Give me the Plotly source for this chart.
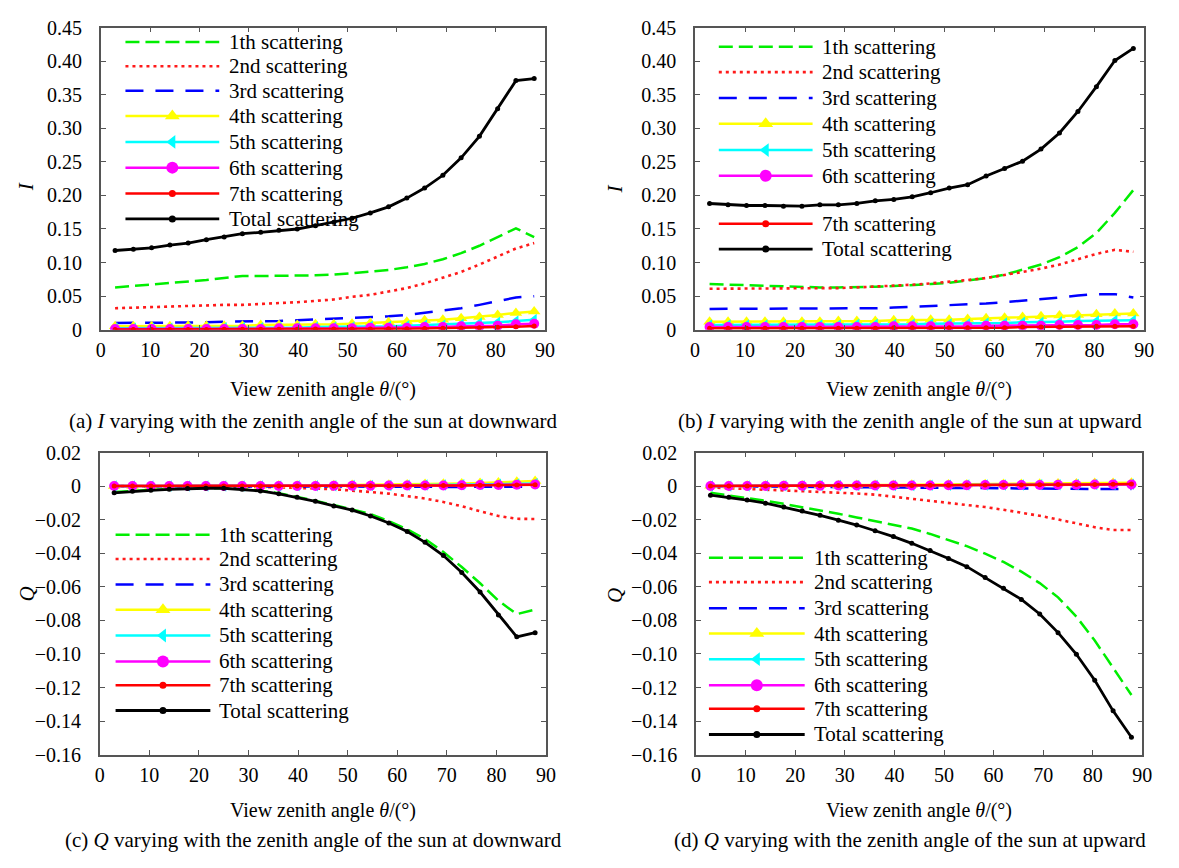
import plotly.graph_objects as go

W, H = 1179, 868

# ---------------- data ----------------
ANGLES = [2.9, 6.6, 10.3, 14.0, 17.7, 21.4, 25.0, 28.7, 32.4, 36.1, 39.8, 43.5,
          47.2, 50.9, 54.6, 58.3, 62.0, 65.6, 69.3, 73.0, 76.7, 80.4, 84.1, 87.8]

NAMES = ["1th scattering", "2nd scattering", "3rd scattering", "4th scattering",
         "5th scattering", "6th scattering", "7th scattering", "Total scattering"]

# (a) I, sun downward
I_down_1 = [0.063, 0.065, 0.067, 0.069, 0.071, 0.074, 0.077, 0.080, 0.080, 0.080, 0.080, 0.081,
            0.082, 0.084, 0.086, 0.089, 0.093, 0.098, 0.105, 0.114, 0.125, 0.138, 0.151, 0.138]
I_down_2 = [0.032, 0.033, 0.034, 0.034, 0.035, 0.036, 0.037, 0.037, 0.038, 0.040, 0.041, 0.043,
            0.045, 0.049, 0.052, 0.057, 0.062, 0.069, 0.077, 0.086, 0.097, 0.109, 0.121, 0.129]
I_down_3 = [0.010, 0.010, 0.011, 0.011, 0.011, 0.011, 0.012, 0.012, 0.012, 0.013, 0.014, 0.015,
            0.016, 0.017, 0.019, 0.020, 0.022, 0.025, 0.028, 0.032, 0.037, 0.043, 0.048, 0.050]
I_down_4 = [0.005, 0.005, 0.005, 0.005, 0.006, 0.006, 0.006, 0.006, 0.007, 0.007, 0.007, 0.008,
            0.008, 0.009, 0.010, 0.011, 0.012, 0.014, 0.015, 0.017, 0.019, 0.022, 0.025, 0.027]
I_down_5 = [0.002, 0.002, 0.002, 0.002, 0.002, 0.002, 0.003, 0.003, 0.003, 0.003, 0.003, 0.004,
            0.004, 0.004, 0.005, 0.005, 0.006, 0.007, 0.007, 0.008, 0.010, 0.011, 0.013, 0.015]
I_down_6 = [0.001, 0.001, 0.001, 0.001, 0.001, 0.001, 0.001, 0.001, 0.001, 0.002, 0.002, 0.002,
            0.002, 0.002, 0.003, 0.003, 0.003, 0.004, 0.004, 0.005, 0.005, 0.006, 0.008, 0.009]
I_down_7 = [0.0005, 0.0005, 0.0005, 0.0005, 0.0005, 0.0005, 0.0006, 0.0006, 0.0007, 0.0007, 0.0008, 0.0009,
            0.0010, 0.0010, 0.0012, 0.0014, 0.0016, 0.0019, 0.0022, 0.0026, 0.0030, 0.0036, 0.0045, 0.0055]
I_down_T = [0.118, 0.120, 0.122, 0.126, 0.129, 0.134, 0.138, 0.143, 0.145, 0.148, 0.150, 0.155,
            0.160, 0.166, 0.174, 0.183, 0.196, 0.211, 0.230, 0.256, 0.288, 0.329, 0.371, 0.374]

# (b) I, sun upward
I_up_1 = [0.068, 0.067, 0.066, 0.065, 0.064, 0.064, 0.063, 0.063, 0.063, 0.064, 0.065, 0.066,
          0.068, 0.070, 0.073, 0.077, 0.082, 0.089, 0.097, 0.108, 0.123, 0.144, 0.174, 0.208]
I_up_2 = [0.061, 0.061, 0.061, 0.061, 0.061, 0.061, 0.062, 0.062, 0.063, 0.064, 0.065, 0.067,
          0.069, 0.071, 0.074, 0.077, 0.081, 0.086, 0.091, 0.097, 0.105, 0.113, 0.119, 0.116]
I_up_3 = [0.031, 0.031, 0.031, 0.031, 0.031, 0.031, 0.031, 0.032, 0.032, 0.032, 0.033, 0.034,
          0.035, 0.036, 0.037, 0.039, 0.041, 0.043, 0.045, 0.048, 0.051, 0.053, 0.053, 0.048]
I_up_4 = [0.012, 0.012, 0.012, 0.012, 0.012, 0.012, 0.012, 0.013, 0.013, 0.013, 0.014, 0.014,
          0.015, 0.015, 0.016, 0.017, 0.018, 0.019, 0.020, 0.021, 0.022, 0.023, 0.024, 0.024]
I_up_5 = [0.007, 0.007, 0.007, 0.007, 0.007, 0.007, 0.007, 0.007, 0.008, 0.008, 0.008, 0.008,
          0.009, 0.009, 0.009, 0.010, 0.010, 0.011, 0.011, 0.012, 0.013, 0.013, 0.014, 0.014]
I_up_6 = [0.004, 0.004, 0.004, 0.004, 0.004, 0.004, 0.004, 0.004, 0.004, 0.004, 0.005, 0.005,
          0.005, 0.005, 0.005, 0.006, 0.006, 0.006, 0.006, 0.007, 0.007, 0.007, 0.008, 0.008]
I_up_7 = [0.002, 0.002, 0.002, 0.002, 0.002, 0.002, 0.002, 0.002, 0.002, 0.002, 0.003, 0.003,
          0.003, 0.003, 0.003, 0.003, 0.003, 0.004, 0.004, 0.004, 0.004, 0.005, 0.005, 0.005]
I_up_T = [0.188, 0.186, 0.185, 0.185, 0.184, 0.184, 0.186, 0.186, 0.188, 0.192, 0.194, 0.198,
          0.204, 0.211, 0.216, 0.229, 0.240, 0.251, 0.269, 0.293, 0.325, 0.362, 0.401, 0.419]

# (c) Q, sun downward
Q_down_1 = [-0.0035, -0.0027, -0.0022, -0.0017, -0.0014, -0.0012, -0.0012, -0.0017, -0.0027, -0.0043, -0.0063, -0.0087,
            -0.0113, -0.0138, -0.0166, -0.0208, -0.0257, -0.0315, -0.0393, -0.0482, -0.0579, -0.0683, -0.0763, -0.0735]
Q_down_2 = [0.0, 0.0, 0.0, 0.0, 0.0, -0.0001, -0.0002, -0.0003, -0.0005, -0.0007, -0.0010, -0.0014,
            -0.0019, -0.0026, -0.0035, -0.0045, -0.0058, -0.0074, -0.0095, -0.0120, -0.0150, -0.0178, -0.0195, -0.0196]
Q_down_3 = [0.0, 0.0, 0.0, 0.0, 0.0, 0.0, 0.0, 0.0, -0.0001, -0.0001, -0.0001, -0.0002,
            -0.0002, -0.0002, -0.0003, -0.0003, -0.0004, -0.0004, -0.0005, -0.0005, -0.0006, -0.0006, -0.0006, -0.0004]
Q_down_4 = [0.0, 0.0, 0.0, 0.0001, 0.0001, 0.0001, 0.0001, 0.0002, 0.0002, 0.0003, 0.0003, 0.0004,
            0.0005, 0.0006, 0.0007, 0.0008, 0.0010, 0.0012, 0.0014, 0.0016, 0.0019, 0.0022, 0.0026, 0.0030]
Q_down_5 = [0.0, 0.0, 0.0, 0.0, 0.0, 0.0, 0.0001, 0.0001, 0.0001, 0.0001, 0.0002, 0.0002,
            0.0002, 0.0003, 0.0003, 0.0004, 0.0005, 0.0006, 0.0007, 0.0008, 0.0009, 0.0011, 0.0013, 0.0015]
Q_down_6 = [0.0, 0.0, 0.0, 0.0, 0.0, 0.0, 0.0, 0.0, 0.0001, 0.0001, 0.0001, 0.0001,
            0.0002, 0.0002, 0.0002, 0.0003, 0.0003, 0.0004, 0.0004, 0.0005, 0.0006, 0.0007, 0.0008, 0.0010]
Q_down_7 = [0.0, 0.0, 0.0, 0.0, 0.0, 0.0, 0.0, 0.0, 0.0, 0.0001, 0.0001, 0.0001,
            0.0001, 0.0002, 0.0002, 0.0002, 0.0003, 0.0003, 0.0004, 0.0004, 0.0005, 0.0006, 0.0007, 0.0008]
Q_down_T = [-0.0040, -0.0031, -0.0025, -0.0019, -0.0015, -0.0013, -0.0013, -0.0019, -0.0029, -0.0046, -0.0067, -0.0091,
            -0.0118, -0.0143, -0.0178, -0.0220, -0.0271, -0.0335, -0.0414, -0.0515, -0.0631, -0.0768, -0.0898, -0.0873]

# (d) Q, sun upward
Q_up_1 = [-0.0040, -0.0055, -0.0070, -0.0088, -0.0106, -0.0125, -0.0145, -0.0165, -0.0187, -0.0208, -0.0228, -0.0253,
          -0.0285, -0.0320, -0.0358, -0.0402, -0.0452, -0.0510, -0.0578, -0.0663, -0.0778, -0.0920, -0.1080, -0.1245]
Q_up_2 = [-0.0008, -0.0012, -0.0016, -0.0020, -0.0024, -0.0028, -0.0033, -0.0038, -0.0044, -0.0051, -0.0063, -0.0073,
          -0.0085, -0.0097, -0.0112, -0.0125, -0.0141, -0.0158, -0.0177, -0.0199, -0.0222, -0.0245, -0.0262, -0.0262]
Q_up_3 = [0.0, -0.0001, -0.0001, -0.0002, -0.0002, -0.0003, -0.0003, -0.0004, -0.0005, -0.0005, -0.0006, -0.0007,
          -0.0008, -0.0009, -0.0010, -0.0011, -0.0012, -0.0013, -0.0014, -0.0015, -0.0016, -0.0017, -0.0018, -0.0018]
Q_up_4 = [0.0002, 0.0002, 0.0003, 0.0003, 0.0004, 0.0004, 0.0005, 0.0005, 0.0006, 0.0006, 0.0007, 0.0008,
          0.0008, 0.0009, 0.0010, 0.0011, 0.0012, 0.0013, 0.0014, 0.0015, 0.0016, 0.0018, 0.0019, 0.0020]
Q_up_5 = [0.0001, 0.0001, 0.0001, 0.0002, 0.0002, 0.0002, 0.0003, 0.0003, 0.0003, 0.0004, 0.0004, 0.0004,
          0.0005, 0.0005, 0.0006, 0.0006, 0.0007, 0.0007, 0.0008, 0.0008, 0.0009, 0.0010, 0.0010, 0.0011]
Q_up_6 = [0.0001, 0.0001, 0.0001, 0.0001, 0.0002, 0.0002, 0.0002, 0.0003, 0.0003, 0.0003, 0.0004, 0.0004,
          0.0004, 0.0005, 0.0005, 0.0006, 0.0006, 0.0007, 0.0007, 0.0008, 0.0008, 0.0009, 0.0010, 0.0010]
Q_up_7 = [0.0001, 0.0001, 0.0001, 0.0001, 0.0002, 0.0002, 0.0002, 0.0003, 0.0003, 0.0003, 0.0004, 0.0004,
          0.0005, 0.0005, 0.0006, 0.0006, 0.0007, 0.0007, 0.0008, 0.0009, 0.0009, 0.0010, 0.0011, 0.0012]
Q_up_T = [-0.0054, -0.0067, -0.0083, -0.0102, -0.0125, -0.0149, -0.0174, -0.0203, -0.0232, -0.0266, -0.0301, -0.0341,
          -0.0384, -0.0431, -0.0480, -0.0544, -0.0609, -0.0675, -0.0762, -0.0873, -0.1002, -0.1157, -0.1339, -0.1496]

I_TICKS = [0, 0.05, 0.10, 0.15, 0.20, 0.25, 0.30, 0.35, 0.40, 0.45]
I_TICKTEXT = ["0", "0.05", "0.10", "0.15", "0.20", "0.25", "0.30", "0.35", "0.40", "0.45"]
Q_TICKS = [-0.16, -0.14, -0.12, -0.10, -0.08, -0.06, -0.04, -0.02, 0, 0.02]
Q_TICKTEXT = ["\u22120.16", "\u22120.14", "\u22120.12", "\u22120.10", "\u22120.08",
              "\u22120.06", "\u22120.04", "\u22120.02", "0", "0.02"]
X_TICKS = [0, 10, 20, 30, 40, 50, 60, 70, 80, 90]

CAPTIONS = [
    "(a) <i>I</i> varying with the zenith angle of the sun at downward",
    "(b) <i>I</i> varying with the zenith angle of the sun at upward",
    "(c) <i>Q</i> varying with the zenith angle of the sun at downward",
    "(d) <i>Q</i> varying with the zenith angle of the sun at upward",
]
XTITLE = "View zenith angle <i>θ</i>/(°)"

# ---------------- styles ----------------
FONT = "Liberation Serif"
STYLES = [
    dict(color="#00ee00", dash="14px,6px", width=2.5, symbol=None, size=0),
    dict(color="#ff1a1a", dash="3px,4px", width=2.6, symbol=None, size=0),
    dict(color="#0000ff", dash="18px,12px", width=2.5, symbol=None, size=0),
    dict(color="#ffff00", dash="solid", width=2.5, symbol="triangle-up", size=11),
    dict(color="#00ffff", dash="solid", width=2.5, symbol="triangle-left", size=10),
    dict(color="#ff00ff", dash="solid", width=2.5, symbol="circle", size=10),
    dict(color="#ff0000", dash="solid", width=2.5, symbol="circle", size=5),
    dict(color="#000000", dash="solid", width=2.8, symbol="circle", size=5),
]

PANELS = [
    dict(series=[I_down_1, I_down_2, I_down_3, I_down_4, I_down_5, I_down_6, I_down_7, I_down_T],
         box=(97, 547, 17, 327), yr=[0, 0.45], yt=(I_TICKS, I_TICKTEXT), ylab="<i>I</i>",
         ylabpos=(22, 180), xlabpos=(322, 388), cappos=(312, 421),
         leg=dict(x0=122, x1=217, xt=225, rows=[31.7, 56.7, 81.7, 107.7, 134.3, 160.7, 187.3, 213.3])),
    dict(series=[I_up_1, I_up_2, I_up_3, I_up_4, I_up_5, I_up_6, I_up_7, I_up_T],
         box=(699, 1154, 17, 327), yr=[0, 0.45], yt=(I_TICKS, I_TICKTEXT), ylab="<i>I</i>",
         ylabpos=(618, 183), xlabpos=(926, 388), cappos=(917, 421),
         leg=dict(x0=723, x1=818, xt=825, rows=[36.7, 62.7, 89.3, 115.7, 142.7, 169.0, 218.3, 244.3])),
    dict(series=[Q_down_1, Q_down_2, Q_down_3, Q_down_4, Q_down_5, Q_down_6, Q_down_7, Q_down_T],
         box=(96, 548, 453, 763), yr=[-0.16, 0.02], yt=(Q_TICKS, Q_TICKTEXT), ylab="<i>Q</i>",
         ylabpos=(22, 598), xlabpos=(322, 820), cappos=(312, 851),
         leg=dict(x0=112, x1=208, xt=215, rows=[537.3, 562.3, 588.3, 614.3, 640.7, 667.3, 691.7, 717.7])),
    dict(series=[Q_up_1, Q_up_2, Q_up_3, Q_up_4, Q_up_5, Q_up_6, Q_up_7, Q_up_T],
         box=(700, 1152, 453, 763), yr=[-0.16, 0.02], yt=(Q_TICKS, Q_TICKTEXT), ylab="<i>Q</i>",
         ylabpos=(618, 600), xlabpos=(926, 820), cappos=(917, 851),
         leg=dict(x0=713, x1=810, xt=817, rows=[561.0, 586.0, 612.7, 638.7, 665.0, 691.7, 716.0, 742.3])),
]

fig = go.Figure()
layout = dict(
    width=W, height=H, margin=dict(l=0, r=0, t=0, b=0),
    paper_bgcolor="white", plot_bgcolor="rgba(0,0,0,0)",
    showlegend=False, font=dict(family=FONT, color="black", size=20),
)
annotations = []


def px(x):
    return x / W


def py(y):
    return 1 - y / H


AXCOL = "#555555"
TICKFONT = dict(family=FONT, size=20, color="black")
for k, p in enumerate(PANELS):
    n = k + 1
    xa = "x" if n == 1 else f"x{n}"
    ya = "y" if n == 1 else f"y{n}"
    xl, xr, yt_, yb = p["box"]
    layout["xaxis" if n == 1 else f"xaxis{n}"] = dict(
        domain=[px(xl), px(xr)], anchor=ya, range=[0, 90], tickvals=X_TICKS,
        showgrid=False, zeroline=False, showline=True, linecolor=AXCOL, linewidth=1.5,
        mirror="ticks", ticks="inside", ticklen=5, tickcolor=AXCOL, tickwidth=1.2,
        tickfont=TICKFONT, ticklabelstandoff=2,
    )
    layout["yaxis" if n == 1 else f"yaxis{n}"] = dict(
        domain=[py(yb), py(yt_)], anchor=xa, range=p["yr"],
        tickvals=p["yt"][0], ticktext=p["yt"][1],
        showgrid=False, zeroline=False, showline=True, linecolor=AXCOL, linewidth=1.5,
        mirror="ticks", ticks="inside", ticklen=5, tickcolor=AXCOL, tickwidth=1.2,
        tickfont=TICKFONT, ticklabelstandoff=13,
    )
    for name, vals, st in zip(NAMES, p["series"], STYLES):
        mode = "lines+markers" if st["symbol"] else "lines"
        tr = dict(x=ANGLES, y=vals, mode=mode, name=name, xaxis=xa, yaxis=ya,
                  line=dict(color=st["color"], width=st["width"], dash=st["dash"]),
                  hoverinfo="skip")
        if st["symbol"]:
            tr["marker"] = dict(symbol=st["symbol"], size=st["size"], color=st["color"],
                                line=dict(width=0))
        fig.add_trace(go.Scatter(**tr))

    # axis titles and captions
    annotations.append(dict(x=px(p["ylabpos"][0]), y=py(p["ylabpos"][1]), xref="paper", yref="paper",
                            text=p["ylab"], textangle=-90, showarrow=False,
                            font=dict(family=FONT, size=21), xanchor="center", yanchor="middle"))
    annotations.append(dict(x=px(p["xlabpos"][0]), y=py(p["xlabpos"][1]), xref="paper", yref="paper",
                            text=XTITLE, showarrow=False, font=dict(family=FONT, size=20),
                            xanchor="center", yanchor="middle"))
    annotations.append(dict(x=px(p["cappos"][0]), y=py(p["cappos"][1]), xref="paper", yref="paper",
                            text=CAPTIONS[k], showarrow=False, font=dict(family=FONT, size=21),
                            xanchor="center", yanchor="middle"))

# ---------------- custom legends (overlay axis in pixel coordinates) ----------------
layout["xaxis5"] = dict(domain=[0, 1], range=[0, W], visible=False, anchor="y5", fixedrange=True)
layout["yaxis5"] = dict(domain=[0, 1], range=[H, 0], visible=False, anchor="x5", fixedrange=True)
for p in PANELS:
    lg = p["leg"]
    xm = (lg["x0"] + lg["x1"]) / 2
    for name, st, yrow in zip(NAMES, STYLES, lg["rows"]):
        fig.add_trace(go.Scatter(x=[lg["x0"], lg["x1"]], y=[yrow, yrow], mode="lines",
                                 xaxis="x5", yaxis="y5", hoverinfo="skip",
                                 line=dict(color=st["color"], width=st["width"], dash=st["dash"])))
        if st["symbol"]:
            fig.add_trace(go.Scatter(x=[xm], y=[yrow], mode="markers", xaxis="x5", yaxis="y5",
                                     hoverinfo="skip",
                                     marker=dict(symbol=st["symbol"], size=st["size"] + 2,
                                                 color=st["color"], line=dict(width=0))))
        annotations.append(dict(x=px(lg["xt"]), y=py(yrow), xref="paper", yref="paper",
                                text=name, showarrow=False, font=dict(family=FONT, size=21),
                                xanchor="left", yanchor="middle"))

layout["annotations"] = annotations
fig.update_layout(**layout)
fig.write_html("out.html")
